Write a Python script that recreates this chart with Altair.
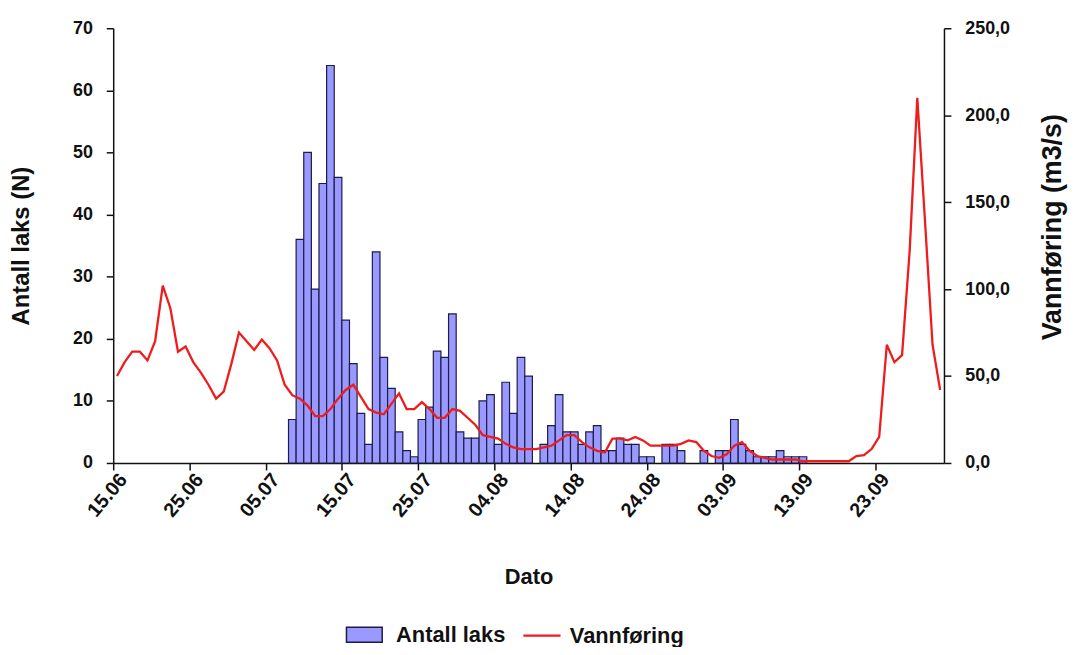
import json
import altair as alt
import pandas as pd

# ---- data ----
tick_labels = ["15.06", "25.06", "05.07", "15.07", "25.07", "04.08",
               "14.08", "24.08", "03.09", "13.09", "23.09"]

first_day = "2024-06-15"          # 15.06
last_day = "2024-10-01"           # 01.10

# Vannføring (m3/s), one value per day 15.06 .. 01.10
flow_values = [
    50, 58, 64, 64, 59, 70, 102, 89, 64, 67,
    58, 52, 45, 37, 41, 57, 75, 70, 65, 71,
    66, 59, 45, 39, 37, 33, 27, 27, 31, 37,
    42, 45, 38, 31, 29, 28, 34, 40, 31, 31,
    35, 31, 26, 26, 31, 30, 26, 22, 16, 15,
    14, 11, 9, 8, 8, 8, 9, 10, 13, 16,
    16, 12, 9, 7, 6, 14, 14, 13, 15, 13,
    10, 10, 10, 10, 11, 13, 12, 7, 4, 3,
    5, 10, 12, 7, 4, 3, 2, 2, 2, 2,
    1, 1, 1, 1, 1, 1, 1, 4, 4.5, 8,
    15, 68, 58, 62, 122, 210, 140, 68, 42,
]

# Antall laks, one value per day 08.07 .. 13.09
count_start = "2024-07-08"
count_values = [
    7, 36, 50, 28, 45, 64, 46, 23, 16, 8,
    3, 34, 17, 12, 5, 2, 1, 7, 9, 18,
    17, 24, 5, 4, 4, 10, 11, 3, 13, 8,
    17, 14, 0, 3, 6, 11, 5, 5, 3, 5,
    6, 2, 2, 4, 3, 3, 1, 1, 0, 3,
    3, 2, 0, 0, 2, 0, 2, 2, 7, 3,
    2, 1, 1, 1, 2, 1, 1, 1,
]

# ---- tables ----
start = pd.Timestamp(first_day)
flow_dates = pd.date_range(first_day, last_day)
n_days = len(flow_dates)
flow_df = pd.DataFrame({
    "day": [(d - start).days + 0.5 for d in flow_dates],
    "flow": flow_values,
    "serie": "Vannføring",
})
count_dates = pd.date_range(count_start, periods=len(count_values))
count_df = pd.DataFrame({
    "day": [(d - start).days for d in count_dates],
    "count": count_values,
    "serie": "Antall laks",
})
count_df["day_end"] = count_df["day"] + 1

FONT = "Liberation Sans"
INK = "#111111"

x_scale = alt.Scale(domain=[0, n_days], nice=False, zero=False)
x_axis = alt.Axis(
    values=list(range(0, 101, 10)),
    labelExpr=json.dumps(tick_labels) + "[round(datum.value / 10)]",
    labelAngle=-50, labelAlign="right", labelBaseline="middle",
    labelPadding=6, labelOffset=10, labelFontSize=20, tickSize=7,
    title="Dato", titleFontSize=22, titleY=114, titleBaseline="middle",
)

bars = alt.Chart(count_df).transform_filter("datum.count > 0").mark_rect(
    stroke="#1c1c48", strokeWidth=1.2, opacity=1
).encode(
    x=alt.X("day:Q", scale=x_scale, axis=x_axis),
    x2="day_end:Q",
    y=alt.Y("count:Q", scale=alt.Scale(domain=[0, 70], nice=False),
            axis=alt.Axis(values=list(range(0, 71, 10)), title="Antall laks (N)",
                          titleFontSize=24, titleX=-80, labelPadding=14,
                          labelFontSize=18, tickSize=7)),
    y2=alt.datum(0),
    fill=alt.Fill("serie:N",
                  scale=alt.Scale(domain=["Antall laks"], range=["#9999ff"]),
                  legend=alt.Legend(orient="none", legendX=242, legendY=600,
                                    title=None, symbolType="M-1.8,-0.75H1.8V0.75H-1.8Z",
                                    symbolSize=400, symbolStrokeColor="#1c1c48",
                                    symbolStrokeWidth=1.5, labelFontSize=22,
                                    labelOffset=21)),
)

line = alt.Chart(flow_df).mark_line(strokeWidth=2.3).encode(
    x=alt.X("day:Q", scale=x_scale, axis=x_axis),
    y=alt.Y("flow:Q", scale=alt.Scale(domain=[0, 250], nice=False),
            axis=alt.Axis(orient="right", values=list(range(0, 251, 50)),
                          labelExpr="replace(format(datum.value, '.1f'), '.', ',')",
                          title="Vannføring (m3/s)", titleAngle=270,
                          titleFontSize=27, titleX=123, titleY=200,
                          labelPadding=14, labelFontSize=18, tickSize=7)),
    stroke=alt.Stroke("serie:N",
                      scale=alt.Scale(domain=["Vannføring"], range=["#ee1c1c"]),
                      legend=alt.Legend(orient="none", legendX=412, legendY=592,
                                        title=None, symbolType="stroke",
                                        symbolSize=1400, symbolStrokeWidth=2.3,
                                        labelFontSize=22, labelOffset=8)),
)

chart = alt.layer(bars, line).resolve_scale(y="independent").properties(
    width=837, height=438,
    padding={"left": 106, "top": 18, "right": 130, "bottom": 183},
    autosize=alt.AutoSizeParams(type="none"),
).configure_view(stroke=None).configure_axis(
    grid=False, domainColor=INK, domainWidth=1.5, tickColor=INK, tickWidth=1.5,
    labelFont=FONT, labelFontWeight="bold", labelColor=INK,
    titleFont=FONT, titleFontWeight="bold", titleColor=INK,
).configure_legend(
    labelFont=FONT, labelFontWeight="bold", labelColor=INK,
)

chart.save("out.html", embed_options={"renderer": "svg", "actions": False})
